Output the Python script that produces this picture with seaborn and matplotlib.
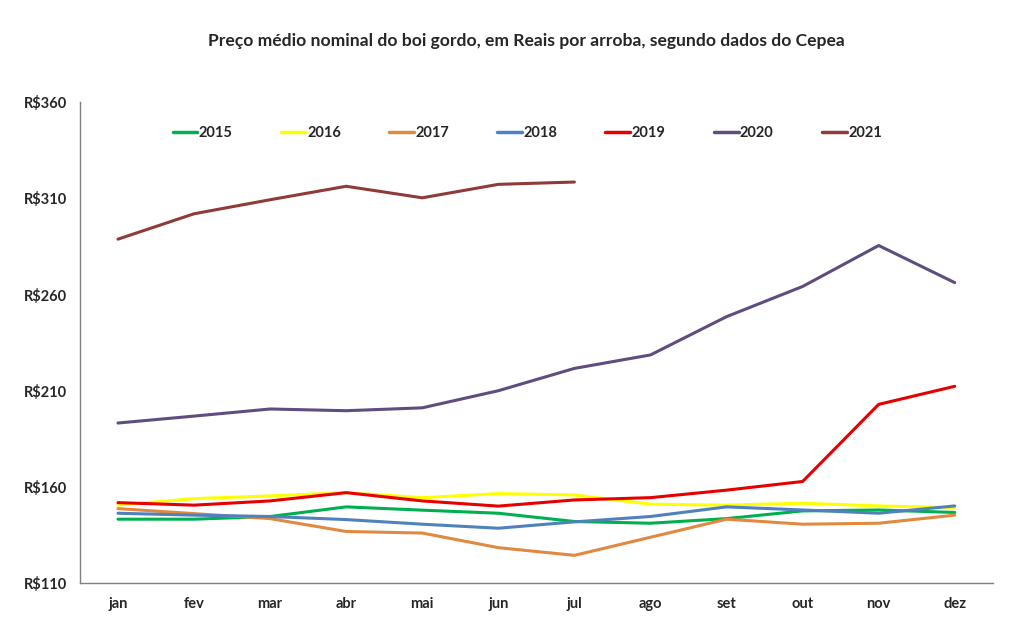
import pandas as pd
import matplotlib
matplotlib.use('Agg')
import matplotlib.pyplot as plt
import seaborn as sns
from matplotlib.ticker import FixedLocator, FuncFormatter

sns.set_style('white')
plt.rcParams['font.family'] = ['Lato', 'DejaVu Sans']

meses = ['jan', 'fev', 'mar', 'abr', 'mai', 'jun', 'jul', 'ago', 'set', 'out', 'nov', 'dez']

p2015 = [143.2, 143.2, 144.6, 149.6, 147.9, 146.3, 142.0, 141.1, 143.5, 147.5, 148.0, 146.7]
p2016 = [150.5, 153.9, 155.3, 157.0, 154.4, 156.5, 155.8, 151.0, 150.5, 151.5, 150.1, 149.2]
p2017 = [148.7, 146.1, 143.5, 136.8, 136.0, 128.4, 124.4, 133.8, 143.2, 140.6, 141.1, 145.3]
p2018 = [146.3, 145.3, 144.6, 143.0, 140.6, 138.5, 141.8, 144.6, 149.6, 148.0, 146.3, 150.1]
p2019 = [151.8, 150.5, 152.7, 157.0, 152.7, 150.0, 153.2, 154.4, 158.3, 162.8, 202.9, 212.3]
p2020 = [193.2, 196.8, 200.5, 199.6, 201.1, 210.0, 221.6, 228.6, 248.5, 264.2, 285.5, 266.2]
p2021 = [288.8, 302.0, 309.3, 316.3, 310.3, 317.3, 318.5]

series = {'2015': p2015, '2016': p2016, '2017': p2017, '2018': p2018,
          '2019': p2019, '2020': p2020, '2021': p2021}

cores = {'2015': '#00B050', '2016': '#FFFF00', '2017': '#E0893F', '2018': '#4F81BD',
         '2019': '#E60000', '2020': '#5E4D7E', '2021': '#8E3B3A'}

linhas = []
for ano, vals in series.items():
    for i, v in enumerate(vals):
        linhas.append({'mes': i, 'ano': ano, 'preco': v})
df = pd.DataFrame(linhas)

fig = plt.figure(figsize=(10.12, 6.31), dpi=100)
ax = fig.add_axes([0.079, 0.076, 0.902, 0.762])

sns.lineplot(data=df, x='mes', y='preco', hue='ano', palette=cores,
             linewidth=2.2, ax=ax, legend=True)

ax.set_xlim(-0.5, 11.5)
ax.set_ylim(110, 360)
ax.set_yticks([110, 160, 210, 260, 310, 360])
ax.yaxis.set_major_formatter(FuncFormatter(lambda v, p: 'R\\$%d' % v))
ax.set_xticks(range(12))
ax.set_xticklabels(meses)
ax.xaxis.set_minor_locator(FixedLocator([i - 0.5 for i in range(13)]))
ax.tick_params(axis='x', which='major', length=0, pad=10)
ax.tick_params(axis='x', which='minor', length=5, color='#808080', direction='out')
ax.tick_params(axis='y', length=5, color='#808080', direction='out', pad=4)
for lab in ax.get_xticklabels() + ax.get_yticklabels():
    lab.set_fontweight('bold')
    lab.set_fontsize(10.5)

for s in ['top', 'right']:
    ax.spines[s].set_visible(False)
for s in ['left', 'bottom']:
    ax.spines[s].set_color('#808080')
    ax.spines[s].set_linewidth(1)

ax.set_xlabel('')
ax.set_ylabel('')

leg = ax.legend(loc='center', bbox_to_anchor=(0.49, 0.936), ncol=7, frameon=False,
                handlelength=1.7, handletextpad=0.1, columnspacing=3.3,
                prop={'weight': 'bold', 'size': 10.5})
for h in leg.get_lines():
    h.set_linewidth(2.5)

fig.suptitle('Preço médio nominal do boi gordo, em Reais por arroba, segundo dados do Cepea',
             x=0.52, y=0.947, fontsize=12.6, fontweight='bold')

fig.savefig('out.png', dpi=100)
